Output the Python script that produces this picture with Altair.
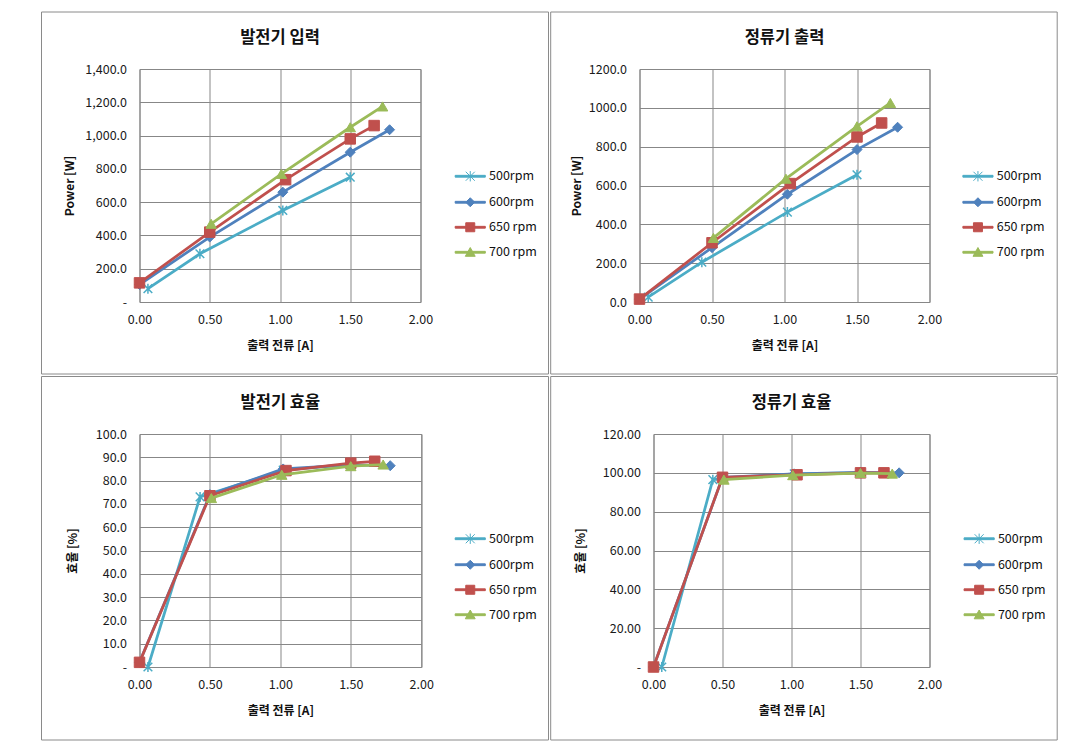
import altair as alt
import pandas as pd

FONT = "Noto Sans CJK KR"
SERIES = ["500rpm", "600rpm", "650 rpm", "700 rpm"]
COLORS = ["#4BACC6", "#4F81BD", "#C0504D", "#9BBB59"]

# output current [A] per series (shared by all four panels)
X_500 = [0.06, 0.43, 1.02, 1.50]
X_600 = [0.00, 0.50, 1.02, 1.50, 1.78]
X_650 = [0.00, 0.50, 1.04, 1.50, 1.67]
X_700 = [0.51, 1.01, 1.50, 1.73]

# 발전기 입력 [W]
GEN_IN_500 = [80, 290, 550, 750]
GEN_IN_600 = [105, 390, 660, 900, 1035]
GEN_IN_650 = [115, 420, 735, 980, 1060]
GEN_IN_700 = [470, 770, 1050, 1175]

# 정류기 출력 [W]
RECT_OUT_500 = [25, 205, 463, 655]
RECT_OUT_600 = [15, 280, 555, 785, 900]
RECT_OUT_650 = [15, 305, 610, 850, 922]
RECT_OUT_700 = [330, 635, 905, 1025]

# 발전기 효율 [%]
GEN_EFF_500 = [0, 73, 84.5, 87]
GEN_EFF_600 = [2, 74, 85, 86.8, 86.4]
GEN_EFF_650 = [2, 73.5, 84.3, 87.5, 88.3]
GEN_EFF_700 = [72.5, 82.5, 86.2, 86.9]

# 정류기 효율 [%]
RECT_EFF_500 = [0, 96.5, 99.5, 100]
RECT_EFF_600 = [0, 97.7, 99.4, 100.2, 100]
RECT_EFF_650 = [0, 97.7, 99, 100, 100]
RECT_EFF_700 = [96.5, 98.8, 99.9, 99.6]

X_TICKS = [0, 0.5, 1.0, 1.5, 2.0]

ASTER = "M-1,-1L1,1M-1,1L1,-1M0,-1.15L0,1.15"
MARKERS = [ASTER, "diamond", "square", "triangle-up"]
MARKER_SIZES = [75, 100, 110, 110]
LINE = "M-3.35,-0.2H3.35V0.2H-3.35Z"
LEG_SYMBOLS = [
    LINE + ASTER,
    LINE + "M0,-1L1,0L0,1L-1,0Z",
    LINE + "M-1,-1H1V1H-1Z",
    LINE + "M0,-1.05L1.1,0.9H-1.1Z",
]
XS = [X_500, X_600, X_650, X_700]
GRID = "#878787"


def panel(title, ys, y_max, y_step, y_fmt, dash_zero, y_title, geom):
    W, H, L, R, T, B, ytx, lx, ly = geom
    y_ticks = list(range(0, y_max + 1, y_step))
    if dash_zero:
        lab = f"datum.value == 0 ? '-' : format(datum.value, '{y_fmt}')"
    else:
        lab = f"format(datum.value, '{y_fmt}')"
    xscale = alt.Scale(domain=[0, 2], nice=False, zero=False)
    yscale = alt.Scale(domain=[0, y_max], nice=False)
    xaxis = alt.Axis(values=X_TICKS, format=".2f", title="출력 전류 [A]", grid=True,
                     gridColor=GRID, domain=False, ticks=False, tickSize=0, labelFlush=False,
                     labelFont=FONT, labelFontSize=12.5, labelColor="#1a1a1a", labelPadding=11.5,
                     titleFont=FONT, titleFontSize=12, titleFontWeight="bold", titleColor="#111",
                     titleX=W / 2, titleY=43, titleAlign="center", titleBaseline="middle")
    yaxis = alt.Axis(values=y_ticks, labelExpr=lab, title=y_title, grid=True,
                     gridColor=GRID, domain=False, ticks=False, tickSize=0, labelFlush=False,
                     labelFont=FONT, labelFontSize=12.5, labelColor="#1a1a1a", labelPadding=13,
                     titleFont=FONT, titleFontSize=12, titleFontWeight="bold", titleColor="#111",
                     titleX=ytx, titleY=H / 2, titleAngle=270, titleAlign="center",
                     titleBaseline="middle")
    border = alt.Chart(pd.DataFrame({"k": [0]})).mark_rect(
        filled=False, color="#8a8a8a", strokeWidth=1
    ).encode(x=alt.value(-L), x2=alt.value(W + R), y=alt.value(-T), y2=alt.value(H + B))
    layers = [border]
    for i, s in enumerate(SERIES):
        df = pd.DataFrame({"x": XS[i], "y": ys[i], "series": s})
        enc = dict(x=alt.X("x:Q", scale=xscale, axis=xaxis),
                   y=alt.Y("y:Q", scale=yscale, axis=yaxis))
        layers.append(alt.Chart(df).mark_line(color=COLORS[i], strokeWidth=2.75).encode(**enc))
        layers.append(alt.Chart(df).mark_point(
            shape=MARKERS[i], filled=True, color=COLORS[i], stroke=COLORS[i],
            strokeWidth=1.5 if i == 0 else 1, size=MARKER_SIZES[i], opacity=1
        ).encode(**enc))
    leg = dict(title=None, orient="none", legendX=lx, legendY=ly, padding=0,
               labelFont=FONT, labelFontSize=12.5, labelColor="#111", labelOffset=12.5,
               symbolSize=81, symbolStrokeWidth=1, rowPadding=11)
    legend_layer = alt.Chart(pd.DataFrame({"series": SERIES})).transform_filter(
        "false"
    ).mark_point(filled=True, opacity=1).encode(
        color=alt.Color("series:N", scale=alt.Scale(domain=SERIES, range=COLORS),
                        legend=alt.Legend(**leg)),
        stroke=alt.Stroke("series:N", scale=alt.Scale(domain=SERIES, range=COLORS),
                          legend=alt.Legend(**leg)),
        shape=alt.Shape("series:N", scale=alt.Scale(domain=SERIES, range=LEG_SYMBOLS),
                        legend=alt.Legend(**leg)),
    )
    layers.append(legend_layer)
    return alt.layer(*layers).properties(
        width=W, height=H,
        title=alt.TitleParams(text=title, font=FONT, fontSize=16.5, fontWeight="bold",
                              color="#111", anchor="middle", offset=-35),
    )


p1 = panel("발전기 입력", [GEN_IN_500, GEN_IN_600, GEN_IN_650, GEN_IN_700],
           1400, 200, ",.1f", True, "Power [W]",
           (281, 233, 98, 128, 57, 72, -69.7, 324.5, 101))
p2 = panel("정류기 출력", [RECT_OUT_500, RECT_OUT_600, RECT_OUT_650, RECT_OUT_700],
           1200, 200, ".1f", False, "Power [W]",
           (290, 233, 88.8, 127.7, 57, 72, -62.6, 332.2, 101))
p3 = panel("발전기 효율", [GEN_EFF_500, GEN_EFF_600, GEN_EFF_650, GEN_EFF_700],
           100, 10, ".1f", True, "효율 [%]",
           (281.7, 233, 98, 127.3, 57.5, 73, -67.3, 324.5, 98.5))
p4 = panel("정류기 효율", [RECT_EFF_500, RECT_EFF_600, RECT_EFF_650, RECT_EFF_700],
           120, 20, ".2f", True, "효율 [%]",
           (276, 233, 102.8, 127.7, 57.5, 73, -73.3, 319.4, 98.5))

chart = alt.concat(p1, p2, p3, p4, columns=2, spacing=0, align="none").resolve_scale(
    color="independent", stroke="independent", shape="independent"
).resolve_legend(
    color="independent", stroke="independent", shape="independent"
).configure_view(stroke=GRID, strokeWidth=1).properties(
    padding={"left": 32.5, "top": 3, "right": 0, "bottom": 0},
    background="white",
)

chart.save("out.html", embed_options={"renderer": "svg", "actions": False})
